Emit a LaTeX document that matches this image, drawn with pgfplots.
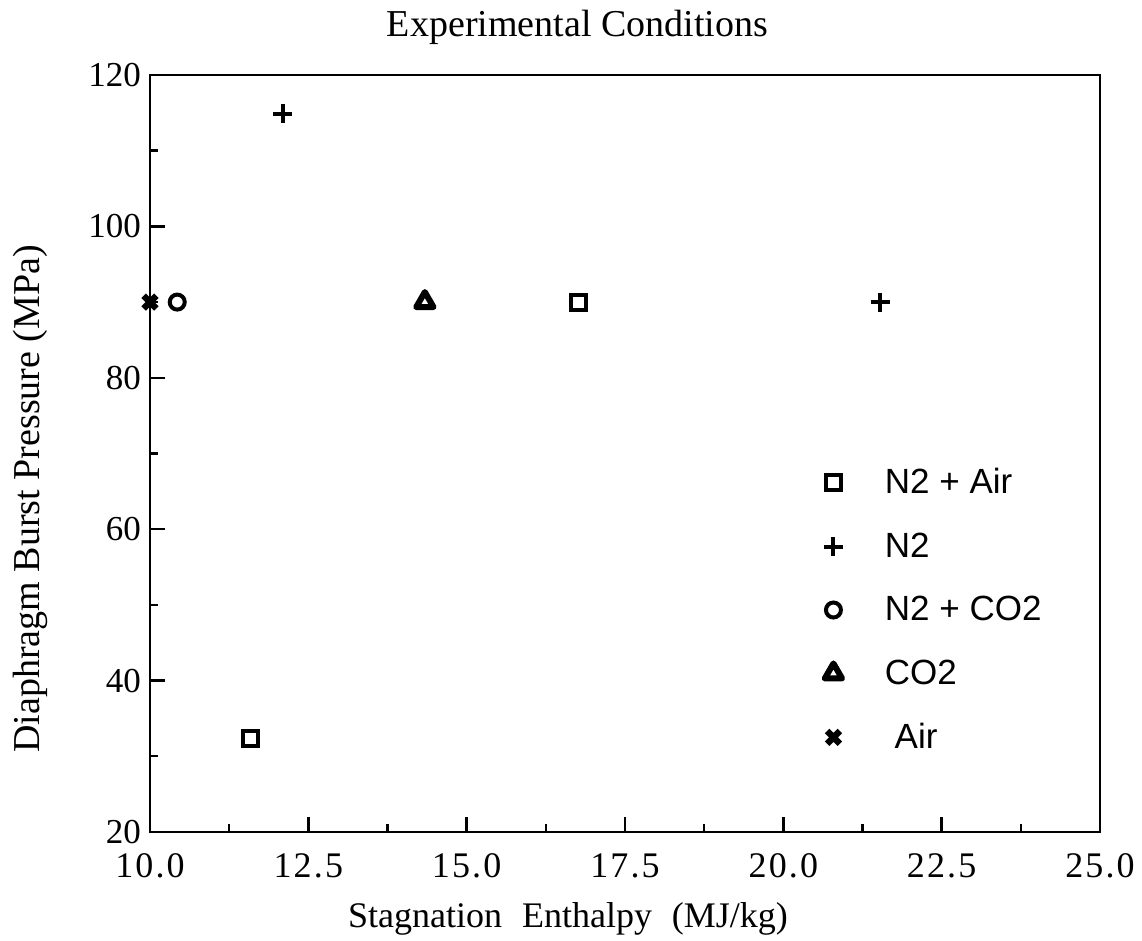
\documentclass[border=0pt]{standalone}
\usepackage{fontspec}
\setmainfont{Liberation Serif}
\newfontfamily\arial{Liberation Sans}
\newfontfamily\spaced[LetterSpace=6]{Liberation Serif}
\usepackage{pgfplots}
\pgfplotsset{compat=1.18}
\begin{document}
\begin{tikzpicture}
\begin{axis}[
  name=ax,
  at={(0,0)}, anchor=south west,
  scale only axis,
  width=475pt, height=378.5pt,
  xmin=10, xmax=25, ymin=20, ymax=120,
  xtick={10,12.5,...,25},
  minor xtick={11.25,13.75,16.25,18.75,21.25,23.75},
  ytick={20,40,...,120},
  minor ytick={30,50,70,90,110},
  tick pos=left,
  tick align=inside,
  major tick length=7.5pt,
  minor tick length=4pt,
  every tick/.style={black, line width=1.2pt},
  axis line style={line width=1.3pt},
  /pgf/number format/assume math mode=true,
  xticklabel style={/pgf/number format/fixed, /pgf/number format/fixed zerofill, /pgf/number format/precision=1, font=\spaced\fontsize{18}{21}\selectfont, yshift=-7.5pt},
  yticklabel style={font=\fontsize{17.5}{20}\selectfont, xshift=-1pt},
  scaled x ticks=false,
  clip=false,
  title={Experimental Conditions},
  title style={font=\fontsize{19}{22}\selectfont, at={(axis description cs:0.45,1.0475)}, anchor=center},
  xlabel={Stagnation\hspace{0.55em}Enthalpy\hspace{0.55em}(MJ/kg)},
  xlabel style={font=\fontsize{18}{21}\selectfont, at={(axis description cs:0.44,-0.115)}, anchor=center},
  ylabel={Diaphragm Burst Pressure (MPa)},
  ylabel style={font=\fontsize{19}{22}\selectfont, at={(axis description cs:-0.126,0.44)}, anchor=center},
  legend cell align=left,
  legend style={draw=none, fill=none, inner sep=0pt, at={(axis description cs:0.709,0.486)}, anchor=north west, font=\arial\fontsize{17.5}{20}\selectfont, row sep=14pt, column sep=19pt, nodes={inner sep=2pt}},
]
\addplot[only marks, mark=square, mark size=3.75pt, mark options={line width=2pt, black}] coordinates {(11.58,32.3) (16.76,90)};
\addlegendentry{N2 + Air}
\addplot[only marks, mark=+, mark size=4.75pt, mark options={line width=2pt, black}] coordinates {(12.1,114.9) (21.53,90)};
\addlegendentry{N2}
\addplot[only marks, mark=o, mark size=3.75pt, mark options={line width=2pt, black}] coordinates {(10.43,90)};
\addlegendentry{N2 + CO2}
\addplot[only marks, mark=triangle, mark size=5pt, mark options={line width=3pt, line join=round, black}] coordinates {(14.34,90)};
\addlegendentry{CO2}
\addplot[only marks, mark=x, mark size=4.5pt, mark options={line width=3.2pt, black}] coordinates {(10.0,90)};
\addlegendentry{\ Air}
\end{axis}
\pgfresetboundingbox
\path[use as bounding box] (-75pt,-54.5pt) rectangle (496pt,416pt);
\end{tikzpicture}
\end{document}
